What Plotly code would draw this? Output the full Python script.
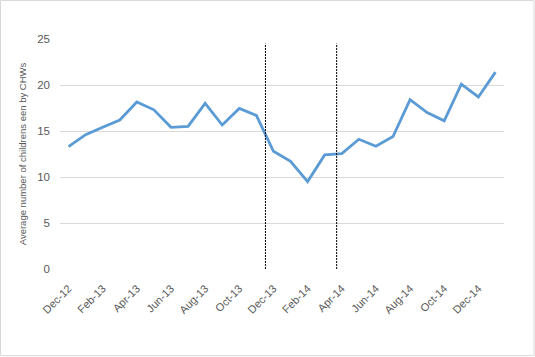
import plotly.graph_objects as go

months = ["Dec-12", "Jan-13", "Feb-13", "Mar-13", "Apr-13", "May-13", "Jun-13", "Jul-13",
          "Aug-13", "Sep-13", "Oct-13", "Nov-13", "Dec-13", "Jan-14", "Feb-14", "Mar-14",
          "Apr-14", "May-14", "Jun-14", "Jul-14", "Aug-14", "Sep-14", "Oct-14", "Nov-14",
          "Dec-14", "Jan-15"]
avg_children = [13.3, 14.6, 15.4, 16.2, 18.15, 17.3, 15.4, 15.5, 18.0, 15.65, 17.45, 16.7,
                12.8, 11.7, 9.5, 12.4, 12.55, 14.1, 13.35, 14.4, 18.4, 17.0, 16.1, 20.1,
                18.7, 21.4]
tick_labels = months[0:25:2]
marker_positions = [11.53, 15.7]   # vertical dashed separators (category coordinates)
marker_top = 24.5
y_ticks = [0, 5, 10, 15, 20, 25]

font_family = "Liberation Sans, Arial, sans-serif"
grey = "#595959"

fig = go.Figure()
fig.add_trace(go.Scatter(x=months, y=avg_children, mode="lines",
                         line=dict(color="#5b9bd5", width=2.8), hoverinfo="x+y"))

for xp in marker_positions:
    fig.add_shape(type="line", xref="x", yref="y", x0=xp, x1=xp, y0=0, y1=marker_top,
                  line=dict(color="black", width=1, dash="2px,1px"))

fig.add_shape(type="rect", xref="paper", yref="paper",
              x0=-59.5/444, x1=(534-60)/444, y0=-(356-269.3)/230.3, y1=(269.3-0.5)/230.3,
              line=dict(color="#d9d9d9", width=1))

fig.update_layout(
    width=535, height=357,
    margin=dict(l=60, r=31, t=39, b=88, autoexpand=False),
    paper_bgcolor="white", plot_bgcolor="white",
    showlegend=False,
    font=dict(family=font_family, color=grey, size=10),
    xaxis=dict(type="category", categoryorder="array", categoryarray=months, automargin=False,
               range=[-0.5, 25.5], tickmode="array", tickvals=tick_labels, ticktext=tick_labels,
               tickangle=-45, showgrid=False, showline=False, zeroline=False,
               ticks="", ticklabelstandoff=10, tickfont=dict(size=11, color=grey)),
    yaxis=dict(range=[0, 25], tickvals=y_ticks, showgrid=True, gridcolor="#d9d9d9",
               gridwidth=1, zeroline=False, showline=False, ticks="", automargin=False,
               ticklabelstandoff=9, tickfont=dict(size=11.5, color=grey),
               title=dict(text="Average number of childrens een by CHWs",
                          font=dict(size=9.5, color=grey), standoff=8)),
)

fig.write_html("out.html", config={"displayModeBar": False},
               post_script="document.body.style.margin='0';")
